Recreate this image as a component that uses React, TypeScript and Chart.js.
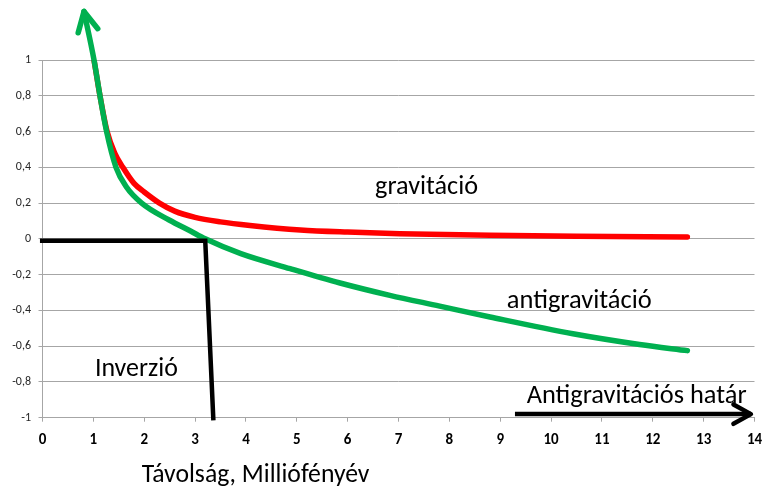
import React, { useEffect, useRef } from "react";
import { Chart, registerables } from "chart.js";

Chart.register(...registerables);

// ---- Data ----
const xMin = 0;
const xMax = 14;
const yMin = -1;
const yMax = 1;

// "gravitáció" curve (red)
const gravX = [1.013, 1.13, 1.27, 1.42, 1.58, 1.8, 2.0, 2.3, 2.6, 3.0, 3.5, 4.08, 5.07, 6.0, 7.03, 8.8, 10.5, 12.68];
const gravY = [1.0, 0.8, 0.6, 0.48, 0.4, 0.31, 0.262, 0.2, 0.155, 0.12, 0.095, 0.075, 0.05, 0.038, 0.029, 0.02, 0.015, 0.011];

// "antigravitáció" curve (green) – first point is the arrow tip above the plot
const antiX = [0.816, 1.013, 1.13, 1.26, 1.445, 1.65, 1.95, 2.5, 2.9, 3.2, 3.9, 4.87, 5.85, 6.83, 7.81, 8.8, 10.43, 11.74, 12.68];
const antiY = [1.271, 1.0, 0.8, 0.6, 0.4, 0.29, 0.2, 0.104, 0.045, 0.0, -0.083, -0.167, -0.247, -0.316, -0.376, -0.437, -0.531, -0.591, -0.625];

// "Inverzió" black polyline
const inversionX = [-0.05, 3.2, 3.36];
const inversionY = [-0.011, -0.011, -1.015];

// "Antigravitációs határ" black arrow
const limitX = [9.29, 13.93];
const limitY = [-0.98, -0.98];

// Text annotations (text, x, y of left baseline in data units, target width px)
const annotationTexts = ["gravitáció", "antigravitáció", "Inverzió", "Antigravitációs határ"];
const annotationX = [6.54, 9.13, 1.03, 9.52];
const annotationY = [0.253, -0.384, -0.767, -0.92];
const annotationWidth = [103, 145, 83, 220];

const xTitle = "Távolság, Milliófényév";
const xTitleX = 1.95;

const FONT = "Calibri, Carlito, Lato, 'Open Sans', sans-serif";

const toPts = (xs: number[], ys: number[]) => xs.map((x, i) => ({ x, y: ys[i] }));

function fitFont(ctx: CanvasRenderingContext2D, text: string, width: number) {
  ctx.font = `20px ${FONT}`;
  const w = ctx.measureText(text).width;
  const size = (20 * width) / w;
  ctx.font = `${size}px ${FONT}`;
}

function chevron(
  ctx: CanvasRenderingContext2D,
  tipX: number,
  tipY: number,
  fromX: number,
  fromY: number,
  color: string,
  width: number,
  len: number,
  angleDeg: number
) {
  const ang = Math.atan2(fromY - tipY, fromX - tipX);
  const a = (angleDeg * Math.PI) / 180;
  ctx.beginPath();
  ctx.moveTo(tipX + len * Math.cos(ang - a), tipY + len * Math.sin(ang - a));
  ctx.lineTo(tipX, tipY);
  ctx.lineTo(tipX + len * Math.cos(ang + a), tipY + len * Math.sin(ang + a));
  ctx.strokeStyle = color;
  ctx.lineWidth = width;
  ctx.lineCap = "round";
  ctx.lineJoin = "round";
  ctx.stroke();
}

const overlayPlugin = {
  id: "overlay",
  afterDatasetsDraw(chart: any) {
    const { ctx, scales } = chart;
    const xs = scales.x;
    const ys = scales.y;
    ctx.save();
    // green arrow head
    chevron(
      ctx,
      xs.getPixelForValue(antiX[0]),
      ys.getPixelForValue(antiY[0]),
      xs.getPixelForValue(antiX[1]),
      ys.getPixelForValue(antiY[1]),
      "#00B050",
      5.5,
      22,
      27
    );
    // black arrow head
    chevron(
      ctx,
      xs.getPixelForValue(limitX[1]),
      ys.getPixelForValue(limitY[1]),
      xs.getPixelForValue(limitX[0]),
      ys.getPixelForValue(limitY[0]),
      "#000000",
      4.5,
      20,
      29
    );
    // annotations
    ctx.fillStyle = "#000000";
    ctx.textAlign = "left";
    ctx.textBaseline = "alphabetic";
    annotationTexts.forEach((t, i) => {
      fitFont(ctx, t, annotationWidth[i]);
      ctx.fillText(t, xs.getPixelForValue(annotationX[i]), ys.getPixelForValue(annotationY[i]));
    });
    // x-axis title
    fitFont(ctx, xTitle, 228);
    ctx.fillText(xTitle, xs.getPixelForValue(xTitleX), xs.bottom - 6);
    ctx.restore();
  },
};

export default function App() {
  const ref = useRef<HTMLCanvasElement | null>(null);

  useEffect(() => {
    if (!ref.current) return;
    const chart = new Chart(ref.current, {
      type: "line",
      data: {
        datasets: [
          {
            label: "gravitáció",
            data: toPts(gravX, gravY),
            borderColor: "#FF0000",
            borderWidth: 5.5,
            cubicInterpolationMode: "monotone",
            borderCapStyle: "round",
            borderJoinStyle: "round",
            pointRadius: 0,
            order: 2,
          },
          {
            label: "antigravitáció",
            data: toPts(antiX, antiY),
            borderColor: "#00B050",
            borderWidth: 5.5,
            cubicInterpolationMode: "monotone",
            borderCapStyle: "round",
            borderJoinStyle: "round",
            pointRadius: 0,
            clip: false,
            order: 1,
          },
          {
            label: "Inverzió",
            data: toPts(inversionX, inversionY),
            borderColor: "#000000",
            borderWidth: 4.5,
            tension: 0,
            borderJoinStyle: "miter",
            borderCapStyle: "butt",
            pointRadius: 0,
            clip: false,
            order: 0,
          },
          {
            label: "Antigravitációs határ",
            data: toPts(limitX, limitY),
            borderColor: "#000000",
            borderWidth: 4.5,
            tension: 0,
            borderCapStyle: "butt",
            pointRadius: 0,
            clip: false,
            order: 0,
          },
        ],
      },
      options: {
        animation: false,
        responsive: false,
        layout: { padding: { top: 60, right: 11.5, left: 0, bottom: 0 } },
        plugins: {
          legend: { display: false },
          tooltip: { enabled: false },
          title: { display: false },
        },
        elements: { point: { radius: 0 } },
        scales: {
          x: {
            type: "linear",
            min: xMin,
            max: xMax,
            afterFit: (s: any) => {
              s.height = 70.3;
              s.paddingRight = 0;
              s.paddingLeft = 0;
            },
            ticks: {
              stepSize: 1,
              autoSkip: false,
              maxRotation: 0,
              color: "#000000",
              padding: 10,
              font: { family: FONT, size: 15, weight: "bold" },
            },
            grid: {
              drawOnChartArea: false,
              drawTicks: true,
              tickLength: 4,
              color: "#a6a6a6",
            },
            border: { display: true, color: "#a6a6a6", width: 1 },
          },
          y: {
            type: "linear",
            min: yMin,
            max: yMax,
            afterFit: (s: any) => {
              s.width = 42.5;
              s.paddingTop = 0;
              s.paddingBottom = 0;
            },
            ticks: {
              stepSize: 0.2,
              color: "#262626",
              padding: 7.5,
              font: { family: FONT, size: 12 },
              callback: (v: any) => {
                let r = Math.round(Number(v) * 10) / 10;
                if (Object.is(r, -0)) r = 0;
                return String(r).replace(".", ",");
              },
            },
            grid: { color: "#a6a6a6", tickLength: 4, lineWidth: 1 },
            border: { display: true, color: "#a6a6a6", width: 1 },
          },
        },
      },
      plugins: [overlayPlugin],
    } as any);
    return () => chart.destroy();
  }, []);

  return (
    <div style={{ position: "absolute", left: 0, top: 0, width: 766, height: 488, background: "#ffffff" }}>
      <canvas ref={ref} width={766} height={488} style={{ display: "block" }} />
    </div>
  );
}
